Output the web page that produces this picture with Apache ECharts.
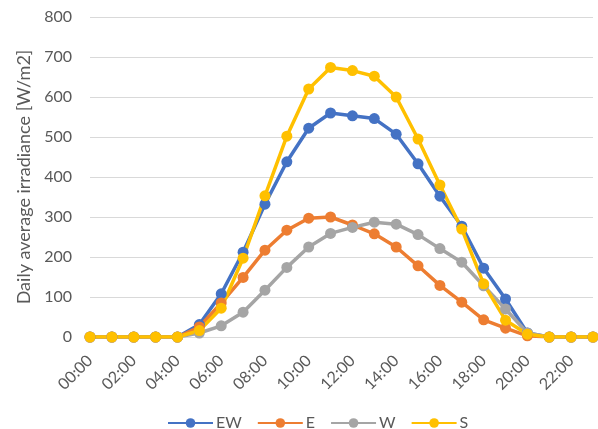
<!DOCTYPE html>
<html><head><meta charset="utf-8">
<script src="https://cdn.jsdelivr.net/npm/echarts@6/dist/echarts.min.js"></script>
<style>html,body{margin:0;padding:0;background:#fff}#c{width:598px;height:429px}</style>
</head><body><div id="c"></div>
<script>
const hours = ['00:00','01:00','02:00','03:00','04:00','05:00','06:00','07:00','08:00','09:00','10:00','11:00','12:00','13:00','14:00','15:00','16:00','17:00','18:00','19:00','20:00','21:00','22:00','23:00'];
const EW = [0,0,0,0,0,31,108,212,332,438,522,560,553,546,507,433,352,277,172,95,10,0,0,0];
const E  = [0,0,0,0,0,25,85,149,217,267,297,300,280,258,225,178,129,87,43,22,3,0,0,0];
const W  = [0,0,0,0,0,10,28,62,117,174,225,259,274,287,282,256,221,187,128,70,10,0,0,0];
const S  = [0,0,0,0,0,16,72,197,353,502,620,674,666,652,600,495,380,270,133,42,7,0,0,0];
const yTicks = [0,100,200,300,400,500,600,700,800];

const font = 'Lato, "Open Sans", sans-serif';
const chart = echarts.init(document.getElementById('c'));
function mk(name, data, color){
  return {name, type:'line', data, symbol:'circle', symbolSize:11,
    lineStyle:{width:3.5, color}, itemStyle:{color}, animation:false};
}
chart.setOption({
  animation:false,
  textStyle:{fontFamily:font},
  grid:{left:90,right:5,top:17,bottom:92,containLabel:false},
  legend:{top:410,left:162,itemWidth:45,itemHeight:12,itemGap:15,
    textStyle:{fontFamily:font,fontSize:16,color:'#595959',padding:[0,0,0,-2]},
    data:['EW','E','W','S']},
  xAxis:{type:'category',data:hours,boundaryGap:false,
    axisLine:{lineStyle:{color:'#d9d9d9'}},axisTick:{show:false},
    axisLabel:{interval:1,rotate:45,fontFamily:font,fontSize:16,color:'#595959',margin:21}},
  yAxis:{type:'value',min:yTicks[0],max:yTicks[yTicks.length-1],interval:100,
    name:'Daily average irradiance [W/m2]',nameLocation:'middle',nameGap:57,
    nameTextStyle:{fontFamily:font,fontSize:18,color:'#595959'},
    axisLine:{show:false},axisTick:{show:false},
    splitLine:{lineStyle:{color:'#d9d9d9',width:1}},
    axisLabel:{fontFamily:font,fontSize:16,color:'#595959',margin:18}},
  series:[mk('EW',EW,'#4472C4'),mk('E',E,'#ED7D31'),mk('W',W,'#A5A5A5'),mk('S',S,'#FFC000')]
});
</script></body></html>
